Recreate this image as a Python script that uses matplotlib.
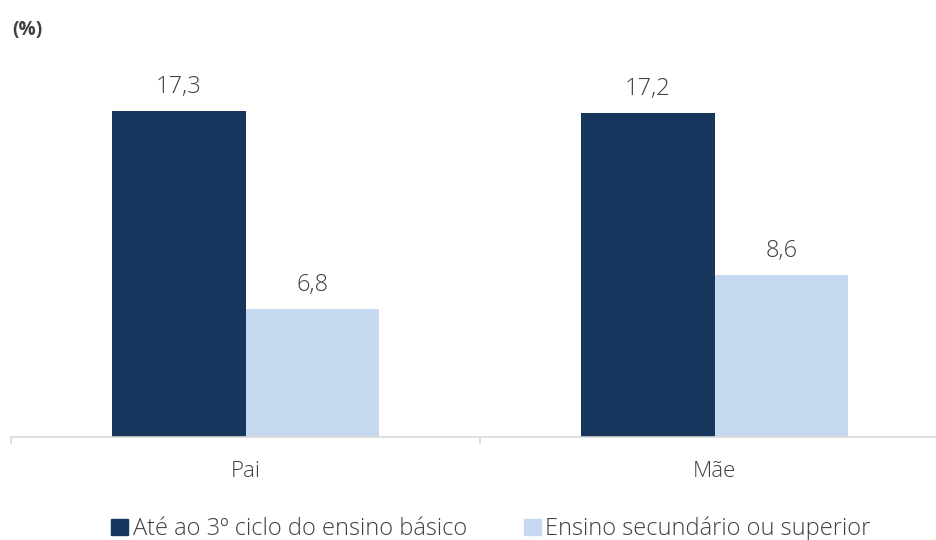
import numpy as np
import matplotlib.pyplot as plt
from matplotlib.patches import Patch

# data
categories = ['Pai', 'Mãe']
series_names = ['Até ao 3º ciclo do ensino básico', 'Ensino secundário ou superior']
basico = [17.3, 17.2]
secundario = [6.8, 8.6]

dark = '#17365d'
light = '#c6d9f0'
txt = '#404040'

plt.rcParams['font.family'] = ['Open Sans', 'DejaVu Sans']

fig = plt.figure(figsize=(9.36, 5.4), dpi=100)
ax = fig.add_axes([11/936, 103/540, 938/936, 376.4/540])

x = np.arange(len(categories))
w = 0.2857
b1 = ax.bar(x - w/2, basico, w, color=dark)
b2 = ax.bar(x + w/2, secundario, w, color=light)

for bars, vals in [(b1, basico), (b2, secundario)]:
    for r, v in zip(bars, vals):
        ax.annotate(f'{v:.1f}'.replace('.', ','), (r.get_x() + r.get_width()/2, v),
                    xytext=(0, 9), textcoords='offset points', ha='center', va='bottom',
                    fontsize=17, color=txt, fontweight='light')

ax.set_xlim(-0.5, len(categories) - 0.5)
ax.set_ylim(0, 20)
for s in ['top', 'right', 'left']:
    ax.spines[s].set_visible(False)
ax.spines['bottom'].set_color('#d9d9d9')
ax.spines['bottom'].set_linewidth(1.2)
ax.set_yticks([])
ax.set_xticks(x)
ax.set_xticklabels(categories, fontsize=16, color=txt, fontweight='light')
ax.tick_params(axis='x', which='major', length=0, pad=17)
ax.set_xticks(np.arange(-0.5, len(categories)), minor=True)
ax.tick_params(axis='x', which='minor', length=5, color='#d9d9d9', width=1.2)

fig.text(12/936, 1 - 30/540, '(%)', fontsize=13.8, fontweight='bold', color=txt, va='center')

handles = [Patch(color=dark), Patch(color=light)]
fig.legend(handles, series_names, loc='center', bbox_to_anchor=(491/936, 1 - 529/540),
           ncol=2, frameon=False, labelcolor=txt, handlelength=0.72,
           handleheight=0.72, handletextpad=0.2, columnspacing=2.4,
           prop={'family': ['Open Sans', 'DejaVu Sans'], 'weight': 'light', 'size': 17})

fig.savefig('out.png', dpi=100)
